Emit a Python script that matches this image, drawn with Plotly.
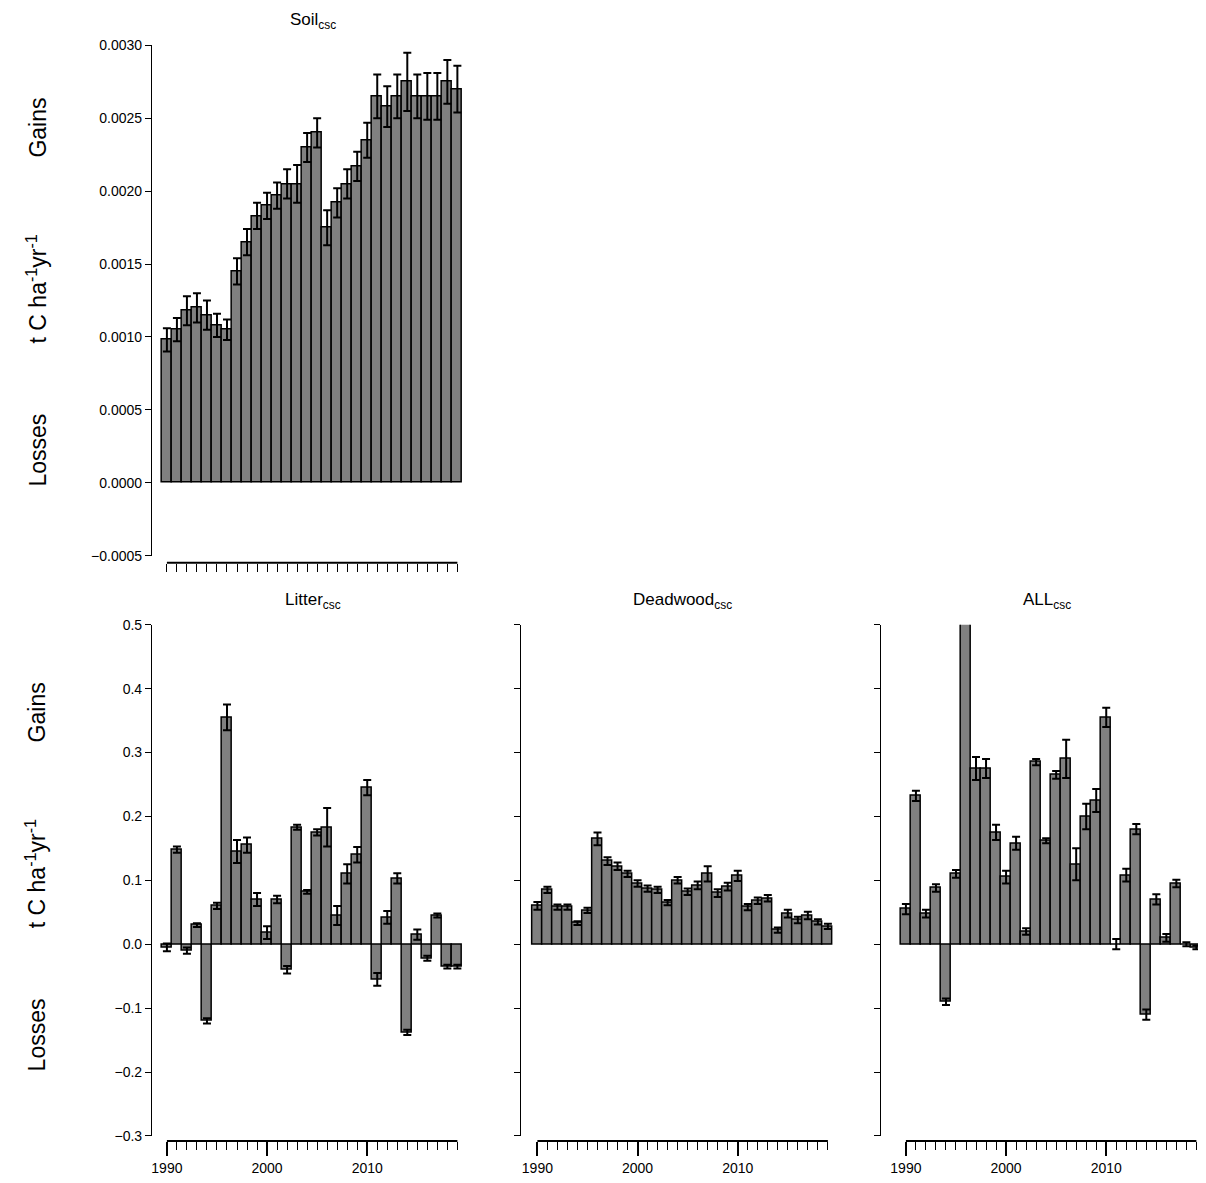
import plotly.graph_objects as go

years = list(range(1990, 2020))
soil = [0.00098,0.00105,0.00118,0.00120,0.00115,0.00108,0.00105,0.00145,0.00165,0.00183,
        0.00190,0.00197,0.00205,0.00205,0.00230,0.00240,0.00175,0.00192,0.00205,0.00217,
        0.00235,0.00265,0.00258,0.00265,0.00275,0.00265,0.00265,0.00265,0.00275,0.00270]
soil_err = [0.00008,0.00008,0.00010,0.00010,0.00010,0.00008,0.00007,0.00009,0.00009,0.00009,
            0.00009,0.00009,0.00010,0.00013,0.00010,0.00010,0.00012,0.00010,0.00010,0.00010,
            0.00012,0.00015,0.00014,0.00015,0.00020,0.00015,0.00016,0.00016,0.00015,0.00016]
litter = [-0.005,0.148,-0.010,0.030,-0.120,0.060,0.355,0.145,0.155,0.070,
          0.018,0.070,-0.040,0.183,0.082,0.175,0.183,0.045,0.110,0.140,
          0.245,-0.055,0.042,0.103,-0.138,0.015,-0.022,0.045,-0.035,-0.035]
litter_err = [0.006,0.005,0.005,0.003,0.004,0.005,0.020,0.018,0.012,0.010,
              0.010,0.006,0.006,0.004,0.003,0.005,0.030,0.015,0.015,0.012,
              0.012,0.010,0.010,0.008,0.004,0.008,0.004,0.003,0.003,0.003]
deadwood = [0.060,0.085,0.058,0.058,0.033,0.053,0.165,0.130,0.122,0.110,
            0.095,0.087,0.085,0.065,0.100,0.082,0.092,0.110,0.080,0.090,
            0.107,0.058,0.068,0.072,0.022,0.048,0.038,0.045,0.035,0.028]
deadwood_err = [0.006,0.005,0.004,0.004,0.003,0.004,0.010,0.006,0.006,0.005,
                0.005,0.005,0.005,0.004,0.005,0.005,0.006,0.012,0.006,0.006,
                0.008,0.005,0.005,0.005,0.004,0.006,0.005,0.006,0.004,0.004]
allc = [0.055,0.232,0.048,0.088,-0.090,0.110,0.520,0.275,0.275,0.175,
        0.105,0.158,0.020,0.285,0.162,0.265,0.290,0.125,0.200,0.225,
        0.355,0.000,0.108,0.180,-0.110,0.070,0.010,0.095,0.000,-0.005]
all_err = [0.008,0.008,0.006,0.006,0.005,0.006,0.000,0.018,0.015,0.012,
           0.010,0.010,0.005,0.005,0.004,0.006,0.030,0.025,0.020,0.018,
           0.015,0.008,0.010,0.008,0.008,0.008,0.006,0.006,0.003,0.003]

W, H = 1206, 1183
def px(x): return ((x - 14.9) / 0.9947) / W
def py(y): return 1 - ((y - 15.6) / 0.986) / H

fig = go.Figure()
panels = [
    (soil, soil_err, "Soil<sub>csc</sub>", 45, 555, [-0.0005, 0.003], 150, 166, True, False, ".4f", 0.0005, 562),
    (litter, litter_err, "Litter<sub>csc</sub>", 624, 1135, [-0.3, 0.5], 150, 166, True, True, ".1f", 0.1, 1140),
    (deadwood, deadwood_err, "Deadwood<sub>csc</sub>", 624, 1135, [-0.3, 0.5], 520, 537, False, True, ".1f", 0.1, 1140),
    (allc, all_err, "ALL<sub>csc</sub>", 624, 1135, [-0.3, 0.5], 880, 906, False, True, ".1f", 0.1, 1140),
]
ppy = 10.03
for i, (vals, err, title, y0, y1, yr, axpx, x90, laby, labx, fmt, dt, xaxpx) in enumerate(panels, start=1):
    xl, xr = axpx + 8, x90 + 29 * ppy + 9
    xrange = [1990 + (xl - x90) / ppy, 1990 + (xr - x90) / ppy]
    sfx = "" if i == 1 else str(i)
    fig.add_trace(go.Bar(x=years, y=vals, width=1.0, xaxis="x" + sfx, yaxis="y" + sfx,
                         marker=dict(color="#808080", line=dict(color="black", width=1.5)),
                         error_y=dict(type="data", array=err, color="black", thickness=2, width=4),
                         showlegend=False))
    fig.layout["xaxis" + sfx] = dict(domain=[px(xl), px(xr)], range=xrange, anchor="free",
        position=py(xaxpx), showline=False, showgrid=False, zeroline=False,
        tickmode="array", tickvals=[1990, 2000, 2010], ticktext=["1990", "2000", "2010"] if labx else ["", "", ""],
        ticks="outside", ticklen=14, tickwidth=2, tickcolor="black",
        minor=dict(tickmode="array", tickvals=years, ticks="outside", ticklen=8, tickwidth=1, tickcolor="black"),
        tickfont=dict(family="Liberation Sans", size=14, color="black"))
    fig.layout["yaxis" + sfx] = dict(domain=[py(y1), py(y0)], range=yr, anchor="free", position=px(axpx),
        showline=True, linecolor="black", linewidth=1, showgrid=False, zeroline=False,
        dtick=dt, tick0=0, tickformat=fmt, ticks="outside", ticklen=6, tickcolor="black",
        showticklabels=laby, tickfont=dict(family="Liberation Sans", size=14, color="black"))
    fig.add_shape(type="line", xref="x" + sfx, yref="paper", x0=1990, x1=2019,
                  y0=py(xaxpx), y1=py(xaxpx), line=dict(color="black", width=2))
    fig.add_annotation(text=title, x=px((xl + xr) / 2), y=py(y0 - 24), xref="paper", yref="paper",
                       xanchor="center", yanchor="middle",
                       showarrow=False, font=dict(family="Liberation Sans", size=17, color="black"))

sp1 = "&nbsp;" * 11
sp2 = "&nbsp;" * 12
for yc in [(45 + 555) / 2 - 8, (624 + 1135) / 2 - 3]:
    fig.add_annotation(text="Losses" + sp1 + "t C ha<sup>-1</sup>yr<sup>-1</sup>" + sp2 + "Gains",
                       x=px(35), y=py(yc), xref="paper", yref="paper", textangle=-90, showarrow=False,
                       xanchor="center", yanchor="middle",
                       font=dict(family="Liberation Sans", size=23, color="black"))

fig.update_layout(width=W, height=H, margin=dict(l=0, r=0, t=0, b=0), bargap=0,
                  plot_bgcolor="white", paper_bgcolor="white")
fig.write_html("out.html")
